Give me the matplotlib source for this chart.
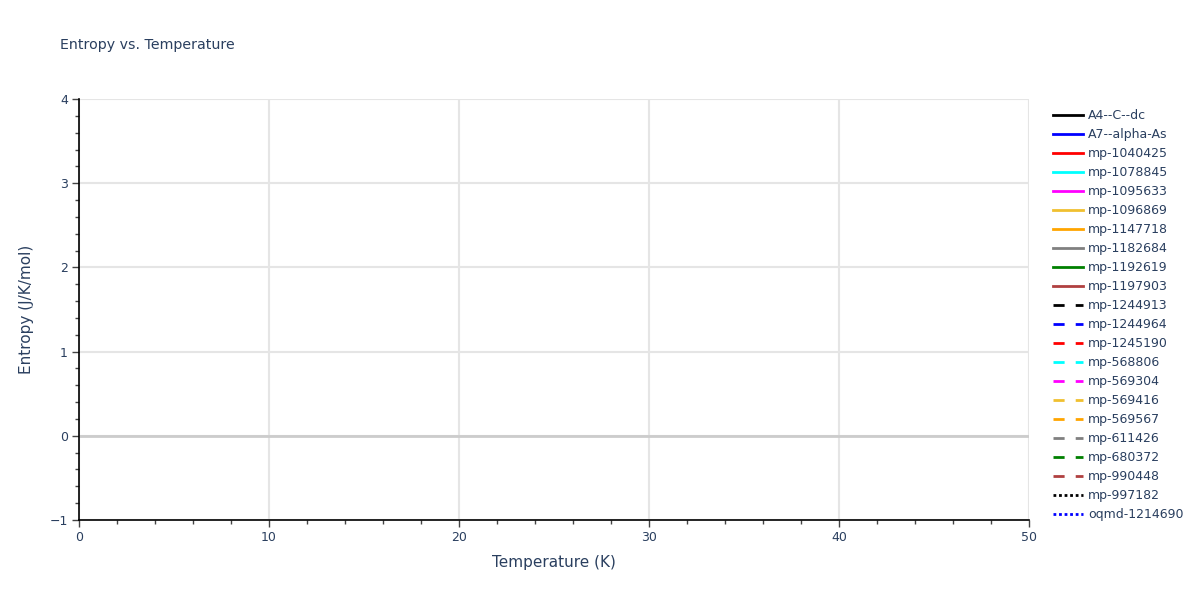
import matplotlib
matplotlib.use('Agg')
import matplotlib.pyplot as plt
from matplotlib.ticker import MultipleLocator

# series shown in the legend (no points drawn in the visible range)
names = ["A4--C--dc", "A7--alpha-As", "mp-1040425", "mp-1078845", "mp-1095633",
         "mp-1096869", "mp-1147718", "mp-1182684", "mp-1192619", "mp-1197903",
         "mp-1244913", "mp-1244964", "mp-1245190", "mp-568806", "mp-569304",
         "mp-569416", "mp-569567", "mp-611426", "mp-680372", "mp-990448",
         "mp-997182", "oqmd-1214690"]
temperature = [[] for _ in names]
entropy = [[] for _ in names]

palette = ["black", "blue", "red", "cyan", "magenta", "#f0c030", "orange",
           "gray", "green", "#b04040"]
styles = ["solid"] * 10 + ["dash"] * 10 + ["dot"] * 2

x_range = (0, 50)
y_range = (-1, 4)

txt = '#2a3f5f'
plt.rcParams['font.family'] = ['DejaVu Sans']

fig = plt.figure(figsize=(12, 6), dpi=100)
ax = fig.add_axes([0.0658, 0.1333, 0.7917, 0.7017])

for i, (name, T, S) in enumerate(zip(names, temperature, entropy)):
    color = palette[i % len(palette)]
    if styles[i] == "solid":
        ls = '-'
    elif styles[i] == "dash":
        ls = (0, (4, 4))
    else:
        ls = (0, (1, 1))
    ax.plot(T, S, color=color, linestyle=ls, linewidth=2, label=name)

ax.set_xlim(*x_range)
ax.set_ylim(*y_range)
ax.xaxis.set_major_locator(MultipleLocator(10))
ax.xaxis.set_minor_locator(MultipleLocator(2))
ax.yaxis.set_major_locator(MultipleLocator(1))
ax.yaxis.set_minor_locator(MultipleLocator(0.2))

ax.grid(True, which='major', color='#e5e5e5', linewidth=1.5, zorder=0)
ax.axhline(0, color='#cccccc', linewidth=2, zorder=2)

for s in ['top', 'right']:
    ax.spines[s].set_visible(False)
for s in ['left', 'bottom']:
    ax.spines[s].set_color('black')
    ax.spines[s].set_linewidth(1.2)

ax.tick_params(axis='both', which='major', length=5, width=1, color='#444',
               labelsize=9, labelcolor=txt, pad=3)
ax.tick_params(axis='both', which='minor', length=3, width=1, color='#444')
ax.set_yticks(range(-1, 5))
ax.set_yticklabels(['\u22121', '0', '1', '2', '3', '4'])

ax.set_xlabel('Temperature (K)', fontsize=11, color=txt, labelpad=8)
ax.set_ylabel('Entropy (J/K/mol)', fontsize=11, color=txt, labelpad=11)
fig.text(0.05, 0.925, 'Entropy vs. Temperature', fontsize=10.2, color=txt,
         va='center', ha='left')

leg = ax.legend(loc='upper left', bbox_to_anchor=(0.8775, 0.818),
                bbox_transform=fig.transFigure, frameon=False, fontsize=9,
                handlelength=2.4, handletextpad=0.4, labelspacing=0.48,
                borderaxespad=0, borderpad=0)
for t in leg.get_texts():
    t.set_color(txt)

fig.savefig('out.png', dpi=100)
